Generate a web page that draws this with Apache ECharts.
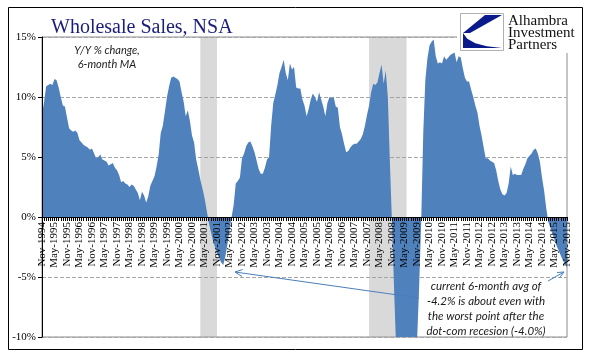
<!DOCTYPE html>
<html><head><meta charset="utf-8">
<script src="https://cdn.jsdelivr.net/npm/echarts@6/dist/echarts.min.js"></script>
<style>html,body{margin:0;padding:0;background:#fff}#c{width:596px;height:358px}</style>
</head><body><div id="c"></div>
<script>
// Y/Y % change, 6-month MA (monthly, Nov-1994 .. Nov-2015)
const y1994 = [8.5, 9.6];
const y1995 = [10.9, 11.0, 11.1, 11.0, 11.5, 11.4, 10.8, 10.0, 9.3, 9.2, 8.3, 7.4];
const y1996 = [7.2, 7.1, 7.2, 7.0, 6.4, 6.2, 6.0, 5.9, 5.8, 5.6, 5.7, 5.3];
const y1997 = [4.9, 5.0, 5.2, 4.8, 4.7, 4.6, 4.3, 4.4, 4.5, 4.1, 3.9, 3.5];
const y1998 = [2.9, 3.0, 2.8, 2.7, 2.5, 2.7, 2.6, 2.3, 2.0, 1.4, 2.1, 1.8];
const y1999 = [1.2, 1.7, 2.6, 3.0, 3.4, 4.2, 5.2, 7.0, 7.6, 8.8, 10.0, 10.9];
const y2000 = [11.6, 11.7, 11.6, 11.5, 11.3, 10.4, 9.6, 8.4, 8.9, 8.0, 6.8, 6.2];
const y2001 = [4.8, 4.0, 3.1, 2.4, 1.6, 0.6, -0.4, -1.2, -1.9, -2.5, -3.0, -3.4];
const y2002 = [-3.8, -4.0, -3.3, -2.3, -1.1, 0.0, 1.0, 2.8, 3.0, 3.3, 4.9, 5.3];
const y2003 = [5.9, 6.2, 6.3, 5.9, 5.4, 4.7, 4.0, 3.6, 3.6, 4.1, 4.8, 5.0];
const y2004 = [7.6, 9.5, 10.2, 11.0, 12.0, 12.5, 13.1, 12.0, 11.4, 12.8, 12.3, 12.5];
const y2005 = [10.8, 10.7, 10.7, 9.8, 9.3, 8.4, 9.0, 9.8, 10.3, 10.0, 9.6, 10.4];
const y2006 = [9.8, 9.2, 8.4, 9.5, 10.0, 9.9, 10.0, 9.2, 9.1, 7.5, 6.9, 6.1];
const y2007 = [5.4, 5.5, 5.8, 6.0, 6.1, 6.1, 6.3, 6.5, 6.9, 7.6, 8.5, 9.3];
const y2008 = [10.4, 11.1, 11.0, 11.2, 12.0, 12.7, 11.1, 12.2, 10.0, 4.5, -0.5, -6.0];
const y2009 = [-11, -13, -15, -16, -17, -17, -16, -15, -13.5, -12, -10.5, -6];
const y2010 = [-0.5, 7.0, 11.4, 13.2, 14.3, 14.6, 14.8, 13.4, 12.8, 12.9, 12.8, 13.4];
const y2011 = [13.1, 13.3, 13.5, 13.6, 13.7, 12.9, 13.4, 13.3, 12.4, 11.6, 11.3, 11.3];
const y2012 = [10.6, 10.0, 9.3, 8.7, 7.6, 6.8, 5.8, 4.9, 4.9, 4.7, 4.6, 4.5];
const y2013 = [3.9, 3.0, 2.3, 1.9, 1.8, 2.0, 2.8, 4.2, 3.5, 3.6, 3.5, 3.5];
const y2014 = [3.5, 4.0, 4.4, 4.9, 5.1, 5.3, 5.6, 5.7, 5.3, 4.6, 3.3, 2.2];
const y2015 = [0.8, -0.4, -0.9, -1.4, -1.9, -2.4, -2.8, -3.2, -3.6, -3.9, -4.2];

const values = [].concat(y1994, y1995, y1996, y1997, y1998, y1999, y2000, y2001, y2002,
  y2003, y2004, y2005, y2006, y2007, y2008, y2009, y2010, y2011, y2012, y2013, y2014, y2015);

const monthNames = ['Jan','Feb','Mar','Apr','May','Jun','Jul','Aug','Sep','Oct','Nov','Dec'];
const categories = [];
for (let i = 0; i < values.length; i++) {
  const k = 10 + i;
  categories.push(monthNames[k % 12] + '-' + (1994 + Math.floor(k / 12)));
}
const recessions = [['Mar-2001', 'Nov-2001'], ['Dec-2007', 'Jun-2009']];
const yTicks = { min: -10, max: 15, step: 5 };

const titleText = 'Wholesale Sales, NSA';
const subtitleLines = ['Y/Y % change,', '6-month MA'];
const noteLines = ['current 6-month avg of', '-4.2% is about even with', 'the worst point after the', 'dot-com recesion (-4.0%)'];
const logoLines = ['Alhambra', 'Investment', 'Partners'];

const chart = echarts.init(document.getElementById('c'));
const navy = '#0b1a8a';
const arrowColor = '#4a7ebb';
const gridH = 300;
const zeroOffset = -gridH * (0 - yTicks.min) / (yTicks.max - yTicks.min);

const graphic = [
  { type: 'rect', z: 100, shape: { x: 8.5, y: 7.5, width: 574, height: 342 }, style: { fill: 'none', stroke: '#000', lineWidth: 1 } },
  { type: 'rect', z: 100, shape: { x: 457, y: 8, width: 124, height: 45 }, style: { fill: '#fff', stroke: 'none' } },
  { type: 'rect', z: 101, shape: { x: 460.5, y: 13.5, width: 43, height: 37 }, style: { fill: '#fff', stroke: '#b0b0b0', lineWidth: 1 } },
  { type: 'polygon', z: 102, shape: { points: [[485, 15], [502, 15], [470, 33], [463, 33]] }, style: { fill: navy } },
  { type: 'polygon', z: 102, shape: { points: [[463, 33], [467.3, 38.8], [475.3, 43.3], [486.8, 46.3], [502, 48], [463, 48]] }, style: { fill: navy } },
  // arrows
  { type: 'line', z: 100, shape: { x1: 419, y1: 298, x2: 235, y2: 272 }, style: { stroke: arrowColor, lineWidth: 1 } },
  { type: 'polyline', z: 100, shape: { points: [[242, 276.5], [235, 272], [242.6, 269.5]] }, style: { stroke: arrowColor, lineWidth: 1, fill: 'none' } },
  { type: 'line', z: 100, shape: { x1: 548, y1: 281, x2: 564, y2: 272 }, style: { stroke: arrowColor, lineWidth: 1 } },
  { type: 'polyline', z: 100, shape: { points: [[557, 272.5], [564, 272], [559.5, 278]] }, style: { stroke: arrowColor, lineWidth: 1, fill: 'none' } }
];
logoLines.forEach((t, i) => graphic.push({
  type: 'text', z: 102, style: { text: t, x: 508, y: 21 + i * 12, textVerticalAlign: 'middle', font: '15px "Liberation Serif"', fill: '#111' }
}));
subtitleLines.forEach((t, i) => graphic.push({
  type: 'text', z: 100, style: { text: t, x: 107, y: 50 + i * 14, textAlign: 'center', textVerticalAlign: 'middle', font: 'italic 11px "Lato"', fill: '#222' }
}));
noteLines.forEach((t, i) => graphic.push({
  type: 'text', z: 100, style: { text: t, x: 486, y: 286 + i * 15, textAlign: 'center', textVerticalAlign: 'middle', font: 'italic 11.5px "Lato"', fill: '#1a1a1a' }
}));

chart.setOption({
  animation: false,
  title: { text: titleText, left: 46, top: 13, textStyle: { fontFamily: 'Liberation Serif', fontSize: 20, fontWeight: 'normal', color: '#1c1c7c' } },
  grid: { left: 42, top: 37, width: 525, height: gridH, show: true, borderColor: '#8c8c8c', borderWidth: 1,
    containLabel: false, outerBoundsMode: 'none' },
  xAxis: {
    type: 'category', data: categories, boundaryGap: false, z: 3, position: 'bottom', offset: zeroOffset,
    axisLine: { onZero: false, lineStyle: { color: '#000', width: 1 } },
    axisTick: { show: true, interval: 0, length: 4, lineStyle: { color: '#000' } },
    axisLabel: { interval: 5, rotate: 90, fontFamily: 'Liberation Serif', fontSize: 11, color: '#000', margin: 5 },
    splitLine: { show: false }
  },
  yAxis: [
    { type: 'value', min: yTicks.min, max: yTicks.max, interval: yTicks.step, z: 0,
      axisLine: { show: false }, axisTick: { show: false }, axisLabel: { show: false },
      splitLine: { lineStyle: { color: '#a6a6a6', type: 'dashed', width: 1 } } },
    { type: 'value', position: 'left', min: yTicks.min, max: yTicks.max, interval: yTicks.step, z: 3,
      axisLine: { show: true, onZero: false, lineStyle: { color: '#000' } },
      axisTick: { show: true, length: 4, lineStyle: { color: '#000' } },
      axisLabel: { formatter: '{value}%', fontFamily: 'Liberation Serif', fontSize: 11, color: '#000', margin: 6 },
      splitLine: { show: false } }
  ],
  series: [
    { type: 'line', data: values, yAxisIndex: 0, z: 2, symbol: 'none', showSymbol: false, silent: true,
      lineStyle: { width: 0 }, areaStyle: { color: '#4f81bd', opacity: 1 } },
    { type: 'line', data: [], yAxisIndex: 0, z: 4, symbol: 'none', silent: true,
      markArea: { silent: true, itemStyle: { color: 'rgba(160,160,160,0.4)' },
        data: recessions.map(r => [{ xAxis: r[0] }, { xAxis: r[1] }]) } }
  ],
  graphic: graphic
});
</script></body></html>
